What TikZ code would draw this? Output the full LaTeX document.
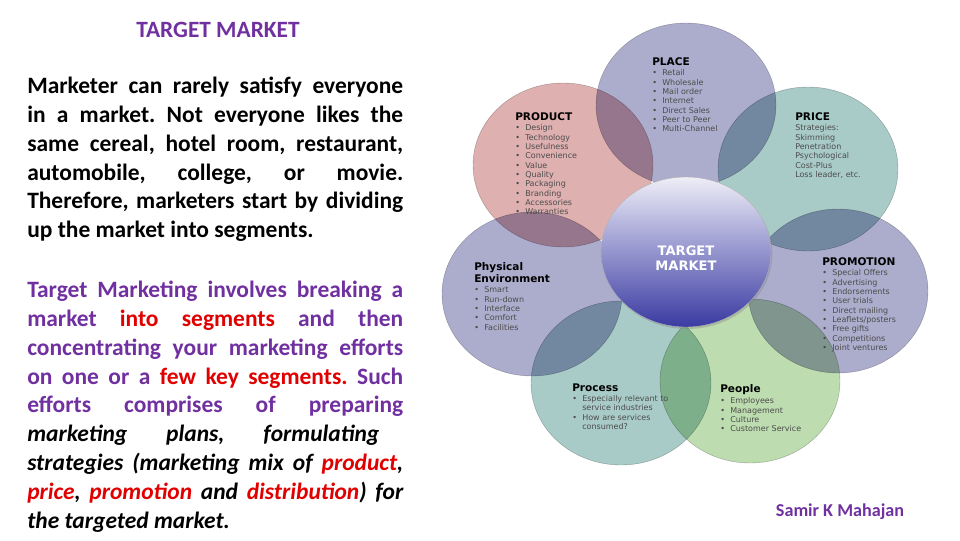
\documentclass[tikz,border=0pt]{standalone}
\usepackage{fontspec}
\setmainfont{Carlito}
\newfontfamily\petalfont{DejaVu Sans}
\usepackage{xcolor}
\usetikzlibrary{shapes.geometric}
\usetikzlibrary{positioning}
\usetikzlibrary{shadows}
\definecolor{mktroxo}{HTML}{7030A0}
\definecolor{mktvermelho}{HTML}{E00000}
\definecolor{lavanda}{HTML}{ACACCD}
\definecolor{rosa}{HTML}{DFB0B0}
\definecolor{petroleo}{HTML}{A9CBC8}
\definecolor{verdeclaro}{HTML}{BDDDB0}
\newcommand{\bul}{\makebox[7.5pt][l]{\textbullet}}
\newcommand{\destaque}[1]{\textcolor{mktvermelho}{#1}}
\frenchspacing
\tikzset{
  petala/.style={ellipse, draw=black!30, line width=0.3pt, inner sep=0pt, minimum width=135pt, minimum height=123pt, fill=#1},
  rotulo/.style={font=\petalfont\bfseries\fontsize{7.9}{9}\selectfont, inner sep=0pt, anchor=north west, align=left},
  itens/.style={font=\petalfont\fontsize{6}{7}\selectfont, text=black!70, inner sep=0pt, align=left},
  paragrafo/.style={text width=282pt, align=justify, inner sep=0pt, anchor=north west, font=\bfseries\fontsize{17.6}{21.6}\selectfont},
}

\begin{document}
\begin{tikzpicture}[x=0.75pt, y=-0.75pt]
  \useasboundingbox (0,0) rectangle (960,540);
  % texto da esquerda
  \node[font=\bfseries\fontsize{17.5}{20}\selectfont, text=mktroxo] (titulo) at (218,30) {TARGET MARKET};
  \node[paragrafo] (par1) at (27,77) {Marketer can rarely satisfy everyone\linebreak in a market. Not everyone likes the\linebreak same cereal, hotel room, restaurant,\linebreak automobile, college, or movie.\linebreak Therefore, marketers start by dividing\linebreak up the market into segments.};
  \node[paragrafo] (par2) at (27,281) {{\color{mktroxo}Target Marketing involves breaking a\linebreak market \destaque{into segments} and then\linebreak concentrating your marketing efforts\linebreak on one or a \destaque{few key segments.} Such\linebreak efforts comprises of preparing\linebreak}\textit{marketing plans, formulating\hspace*{18pt}\linebreak strategies (marketing mix of \destaque{product},\linebreak \destaque{price}, \destaque{promotion} and \destaque{distribution}) for\linebreak the targeted market.}};
  % petalas
  \begin{scope}[blend mode=multiply]
    \node[petala=lavanda] (place) at (686,105) {};
    \node[petala=rosa] (product) at (563,165) {};
    \node[petala=petroleo] (price) at (808,169) {};
    \node[petala=lavanda] (promotion) at (838,291) {};
    \node[petala=lavanda] (physical) at (532,294) {};
    \node[petala=petroleo] (process) at (621,383) {};
    \node[petala=verdeclaro] (people) at (750,381) {};
  \end{scope}
  % centro
  \node[ellipse, minimum width=127.5pt, minimum height=112.5pt, inner sep=0pt, draw=white!70!black, line width=0.3pt,
        top color={rgb,255:red,238;green,238;blue,247}, bottom color={rgb,255:red,58;green,58;blue,162}, middle color={rgb,255:red,148;green,148;blue,206},
        drop shadow={opacity=0.35, shadow xshift=1pt, shadow yshift=-1.5pt}] (alvo) at (686,252) {};
  \node[font=\petalfont\bfseries\fontsize{9.8}{11}\selectfont, text=white, align=center] (alvotxt) at (686,258) {TARGET\\MARKET};
  % textos das petalas
  \node[rotulo] (placehead) at (652,57) {PLACE};
  \node[itens, below right=3pt and 0pt of placehead.south west] (placeitems) {\bul Retail\\ \bul Wholesale\\ \bul Mail order\\ \bul Internet\\ \bul Direct Sales\\ \bul Peer to Peer\\ \bul Multi-Channel};
  \node[rotulo] (producthead) at (515,112) {PRODUCT};
  \node[itens, below right=3pt and 0pt of producthead.south west] (productitems) {\bul Design\\ \bul Technology\\ \bul Usefulness\\ \bul Convenience\\ \bul Value\\ \bul Quality\\ \bul Packaging\\ \bul Branding\\ \bul Accessories\\ \bul Warranties};
  \node[rotulo] (pricehead) at (795,112) {PRICE};
  \node[itens, below right=3pt and 0pt of pricehead.south west] (priceitems) {Strategies:\\ Skimming\\ Penetration\\ Psychological\\ Cost-Plus\\ Loss leader, etc.};
  \node[rotulo] (promotionhead) at (822,257) {PROMOTION};
  \node[itens, below right=3pt and 0pt of promotionhead.south west] (promotionitems) {\bul Special Offers\\ \bul Advertising\\ \bul Endorsements\\ \bul User trials\\ \bul Direct mailing\\ \bul Leaflets/posters\\ \bul Free gifts\\ \bul Competitions\\ \bul Joint ventures};
  \node[rotulo] (physicalhead) at (474,262) {Physical\\Environment};
  \node[itens, below right=3pt and 0pt of physicalhead.south west] (physicalitems) {\bul Smart\\ \bul Run-down\\ \bul Interface\\ \bul Comfort\\ \bul Facilities};
  \node[rotulo] (processhead) at (572,384) {Process};
  \node[itens, below right=2pt and 0pt of processhead.south west] (processitems) {\bul Especially relevant to\\ \hspace*{7.5pt}service industries\\ \bul How are services\\ \hspace*{7.5pt}consumed?};
  \node[rotulo] (peoplehead) at (720,384) {People};
  \node[itens, below right=2pt and 0pt of peoplehead.south west] (peopleitems) {\bul Employees\\ \bul Management\\ \bul Culture\\ \bul Customer Service};
  % autor
  \node[font=\bfseries\fontsize{13.6}{16}\selectfont, text=mktroxo] (autor) at (840,512) {Samir K Mahajan};
\end{tikzpicture}
\end{document}
